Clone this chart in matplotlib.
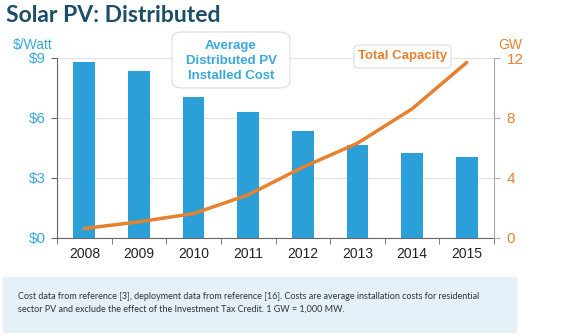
import matplotlib.pyplot as plt
from matplotlib.patches import FancyBboxPatch, Rectangle

years = ["2008", "2009", "2010", "2011", "2012", "2013", "2014", "2015"]
cost_per_watt = [8.78, 8.36, 7.05, 6.27, 5.33, 4.64, 4.25, 4.03]
capacity_gw = [0.6, 1.05, 1.6, 2.85, 4.7, 6.3, 8.6, 11.7]

BLUE = "#2a9fd8"
ORANGE = "#e8812e"
TITLE = "#1d4e69"
SANS = ["Liberation Sans", "DejaVu Sans"]

fig = plt.figure(figsize=(5.7, 3.36), dpi=100)
ax = fig.add_axes([57 / 570, 98.5 / 336, 437 / 570, 179.5 / 336])
ax2 = ax.twinx()

x = list(range(len(years)))
ax.bar(x, cost_per_watt, width=0.4, color=BLUE, zorder=2)
ax.set_xlim(-0.5, 7.5)
ax.set_ylim(0, 9)
ax.set_yticks([0, 3, 6, 9])
ax.set_yticklabels(["$0", "$3", "$6", "$9"], color="#3aa8dc",
                   family=SANS, fontsize=11)
ax.yaxis.grid(True, color="#e2e2e2", lw=0.8, zorder=0)
ax.set_axisbelow(True)
ax.set_xticks(x)
ax.set_xticklabels(years, family=SANS, fontsize=10, color="#222222")
ax.tick_params(axis="x", length=0, pad=7)
ax.set_xticks([i + 0.5 for i in range(-1, 8)], minor=True)
ax.tick_params(axis="x", which="minor", length=4, color="#666666")
ax.tick_params(axis="y", length=4, color="#666666", pad=4)
for s in ["top", "right"]:
    ax.spines[s].set_visible(False)
ax.spines["left"].set_color("#666666")
ax.spines["bottom"].set_color("#666666")

ax2.plot(x, capacity_gw, color=ORANGE, lw=2.5, solid_capstyle="round",
         solid_joinstyle="round", zorder=3)
ax2.set_ylim(0, 12)
ax2.set_yticks([0, 4, 8, 12])
ax2.set_yticklabels(["0", "4", "8", "12"], color=ORANGE, family=SANS, fontsize=11)
ax2.tick_params(axis="y", length=4, color="#aaaaaa", pad=5)
for s in ["top", "left", "bottom"]:
    ax2.spines[s].set_visible(False)
ax2.spines["right"].set_color("#aaaaaa")

fig.text(6 / 570, 1 - 15 / 336, "Solar PV: Distributed", color=TITLE,
         fontsize=16.5, fontweight="bold", family=["Lato", "DejaVu Sans"],
         va="center", ha="left")
fig.text(33 / 570, 1 - 45 / 336, "$/Watt", color="#3aa8dc", fontsize=10,
         family=SANS, ha="center", va="center")
fig.text(510 / 570, 1 - 45 / 336, "GW", color=ORANGE, fontsize=10,
         family=SANS, ha="center", va="center")

# callout boxes
fig.patches.append(FancyBboxPatch((172 / 570, 1 - 88 / 336), 118 / 570, 56 / 336,
                                  boxstyle="round,pad=0,rounding_size=0.02",
                                  transform=fig.transFigure, fc="white",
                                  ec="#dddddd", lw=0.8, zorder=5))
fig.text(231 / 570, 1 - 61 / 336, "Average\nDistributed PV\nInstalled Cost",
         color="#3aa8dc", fontsize=9.5, fontweight="bold", family=SANS,
         ha="center", va="center", linespacing=1.3, zorder=6)

fig.patches.append(FancyBboxPatch((354 / 570, 1 - 68 / 336), 97 / 570, 23 / 336,
                                  boxstyle="round,pad=0,rounding_size=0.01",
                                  transform=fig.transFigure, fc="white",
                                  ec="#dddddd", lw=0.8, zorder=5))
fig.text(402.5 / 570, 1 - 56.5 / 336, "Total Capacity", color=ORANGE, fontsize=9.5,
         fontweight="bold", family=SANS, ha="center", va="center", zorder=6)

# footnote panel
fig.patches.append(Rectangle((3 / 570, 3 / 336), 514 / 570, 56 / 336,
                             transform=fig.transFigure, fc="#e4f1f9", ec="none"))
fig.text(18 / 570, 1 - 302.5 / 336,
         "Cost data from reference [3], deployment data from reference [16]. "
         "Costs are average installation costs for residential\n"
         "sector PV and exclude the effect of the Investment Tax Credit. 1 GW = 1,000 MW.",
         fontsize=6.5, color="#333333", family=["Lato", "DejaVu Sans"],
         ha="left", va="center", linespacing=1.5)

fig.savefig("out.png", dpi=100)
